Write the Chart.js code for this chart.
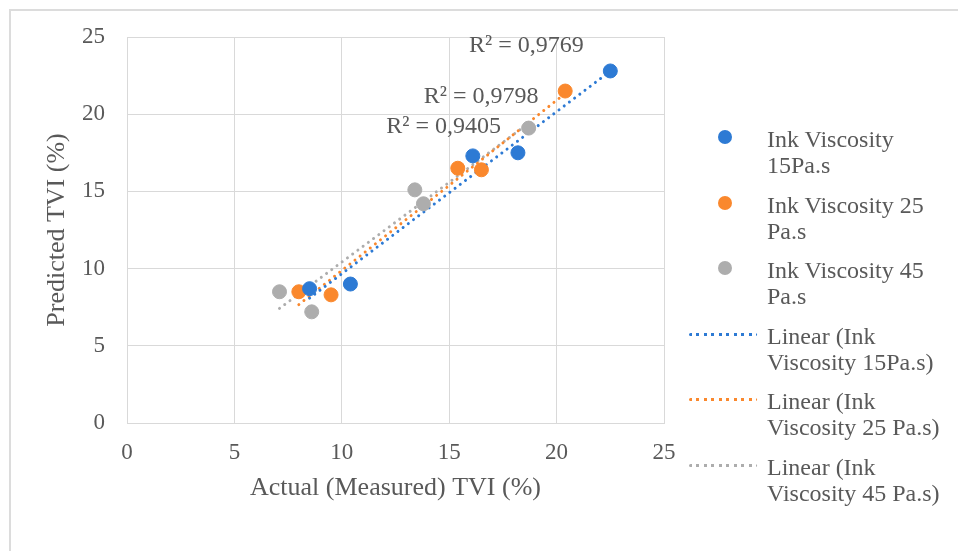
<!DOCTYPE html>
<html>
<head>
    <title>Predicted vs Actual TVI</title>
    <script src="https://cdn.jsdelivr.net/npm/chart.js"></script>
    <style>
        body { margin: 0; background: #fff; font-family: "Liberation Serif", serif; }
        #wrap { position: relative; width: 958px; height: 551px; overflow: hidden; }
        #frame { position: absolute; left: 9px; top: 9px; width: 1000px; height: 600px; border: 2px solid #dcdcdc; }
        #chart { position: absolute; left: 0; top: 0; }
        #legend { position: absolute; left: 688px; top: 126px; color: #595959; font-size: 24px; line-height: 26px; }
        .item { position: relative; height: 65.6px; }
        .item .txt { position: absolute; left: 79px; top: 0; white-space: nowrap; }
        .dot { position: absolute; left: 30px; top: 4px; width: 14px; height: 14px; border-radius: 50%; }
        .line { position: absolute; left: 1px; top: 10px; width: 68px; height: 3px; }
    </style>
</head>
<body>
<div id="wrap">
    <div id="frame"></div>
    <canvas id="chart" width="958" height="551"></canvas>
    <div id="legend"></div>
</div>
<script>
    // values
    const seriesNames = ['Ink Viscosity 15Pa.s', 'Ink Viscosity 25 Pa.s', 'Ink Viscosity 45 Pa.s'];
    const legendLines = [
        ['Ink Viscosity', '15Pa.s'],
        ['Ink Viscosity 25', 'Pa.s'],
        ['Ink Viscosity 45', 'Pa.s'],
        ['Linear (Ink', 'Viscosity 15Pa.s)'],
        ['Linear (Ink', 'Viscosity 25 Pa.s)'],
        ['Linear (Ink', 'Viscosity 45 Pa.s)']
    ];
    const actual15 = [8.5, 10.4, 16.1, 18.2, 22.5];
    const predicted15 = [8.7, 9.0, 17.3, 17.5, 22.8];
    const actual25 = [8.0, 9.5, 15.4, 16.5, 20.4];
    const predicted25 = [8.5, 8.3, 16.5, 16.4, 21.5];
    const actual45 = [7.1, 8.6, 13.4, 13.8, 18.7];
    const predicted45 = [8.5, 7.2, 15.1, 14.2, 19.1];
    const rSquared = ['0,9769', '0,9798', '0,9405'];

    const colors = ['#2d7ad4', '#fa882d', '#adadad'];

    function toPoints(xs, ys) {
        return xs.map((x, i) => ({ x: x, y: ys[i] }));
    }

    // least squares trendline, like the spreadsheet's linear trendline
    function trend(xs, ys) {
        const n = xs.length;
        const mx = xs.reduce((a, b) => a + b, 0) / n;
        const my = ys.reduce((a, b) => a + b, 0) / n;
        let sxy = 0, sxx = 0;
        xs.forEach((x, i) => { sxy += (x - mx) * (ys[i] - my); sxx += (x - mx) * (x - mx); });
        const b = sxy / sxx;
        const a = my - b * mx;
        const x0 = Math.min(...xs), x1 = Math.max(...xs);
        return [{ x: x0, y: a + b * x0 }, { x: x1, y: a + b * x1 }];
    }

    const groups = [[actual15, predicted15], [actual25, predicted25], [actual45, predicted45]];
    const datasets = [];

    groups.forEach((g, i) => {
        datasets.push({
            label: 'Linear (' + seriesNames[i] + ')',
            data: trend(g[0], g[1]),
            showLine: true,
            borderColor: colors[i],
            borderWidth: 3,
            borderDash: [0.01, 6.5],
            borderCapStyle: 'round',
            pointRadius: 0,
            order: 2
        });
    });
    groups.forEach((g, i) => {
        datasets.push({
            label: seriesNames[i],
            data: toPoints(g[0], g[1]),
            backgroundColor: colors[i],
            borderColor: colors[i],
            pointRadius: 7,
            pointHoverRadius: 7,
            order: 1
        });
    });

    // R² labels next to the end of each trendline
    const labelOffsets = [[-84, -25], [-84, 3], [-85, 3]];
    const r2Plugin = {
        id: 'r2labels',
        afterDatasetsDraw(chart) {
            const ctx = chart.ctx;
            const xs = chart.scales.x, ys = chart.scales.y;
            ctx.save();
            ctx.font = '24px "Liberation Serif"';
            ctx.fillStyle = '#595959';
            ctx.textAlign = 'center';
            ctx.textBaseline = 'middle';
            [0, 1, 2].forEach(i => {
                const end = chart.data.datasets[i].data[1];
                const px = xs.getPixelForValue(end.x) + labelOffsets[i][0];
                const py = ys.getPixelForValue(end.y) + labelOffsets[i][1];
                ctx.fillText('R\u00b2 = ' + rSquared[i], px, py);
            });
            ctx.restore();
        }
    };

    const tickFont = { family: 'Liberation Serif', size: 23 };
    const titleFont = { family: 'Liberation Serif', size: 26 };
    const gridColor = '#d9d9d9';

    new Chart(document.getElementById('chart').getContext('2d'), {
        type: 'scatter',
        data: { datasets: datasets },
        options: {
            responsive: false,
            animation: false,
            layout: { padding: { left: 40, top: 37, right: 294, bottom: 38 } },
            plugins: { legend: { display: false }, tooltip: { enabled: false } },
            scales: {
                x: {
                    min: 0, max: 25,
                    ticks: { stepSize: 5, color: '#595959', font: tickFont, padding: 16 },
                    grid: { color: gridColor, drawTicks: false },
                    border: { color: gridColor },
                    title: { display: true, text: 'Actual (Measured) TVI (%)', color: '#595959', font: titleFont, padding: 9 },
                    afterFit(s) { s.height = 90; }
                },
                y: {
                    min: 0, max: 25,
                    ticks: { stepSize: 5, color: '#595959', font: tickFont, padding: 22 },
                    grid: { color: gridColor, drawTicks: false },
                    border: { color: gridColor },
                    title: { display: true, text: 'Predicted TVI (%)', color: '#595959', font: titleFont, padding: 2 },
                    afterFit(s) { s.width = 87; }
                }
            }
        },
        plugins: [r2Plugin]
    });

    const legend = document.getElementById('legend');
    legendLines.forEach((lines, i) => {
        const item = document.createElement('div');
        item.className = 'item';
        const mark = document.createElement('div');
        if (i < 3) {
            mark.className = 'dot';
            mark.style.background = colors[i];
        } else {
            const c = colors[i - 3];
            mark.className = 'line';
            mark.style.background = 'repeating-linear-gradient(to right, ' + c + ' 0 3px, transparent 3px 7.5px)';
            mark.style.borderRadius = '1.5px';
        }
        const txt = document.createElement('div');
        txt.className = 'txt';
        txt.innerHTML = lines.join('<br>');
        item.appendChild(mark);
        item.appendChild(txt);
        legend.appendChild(item);
    });
</script>
</body>
</html>
